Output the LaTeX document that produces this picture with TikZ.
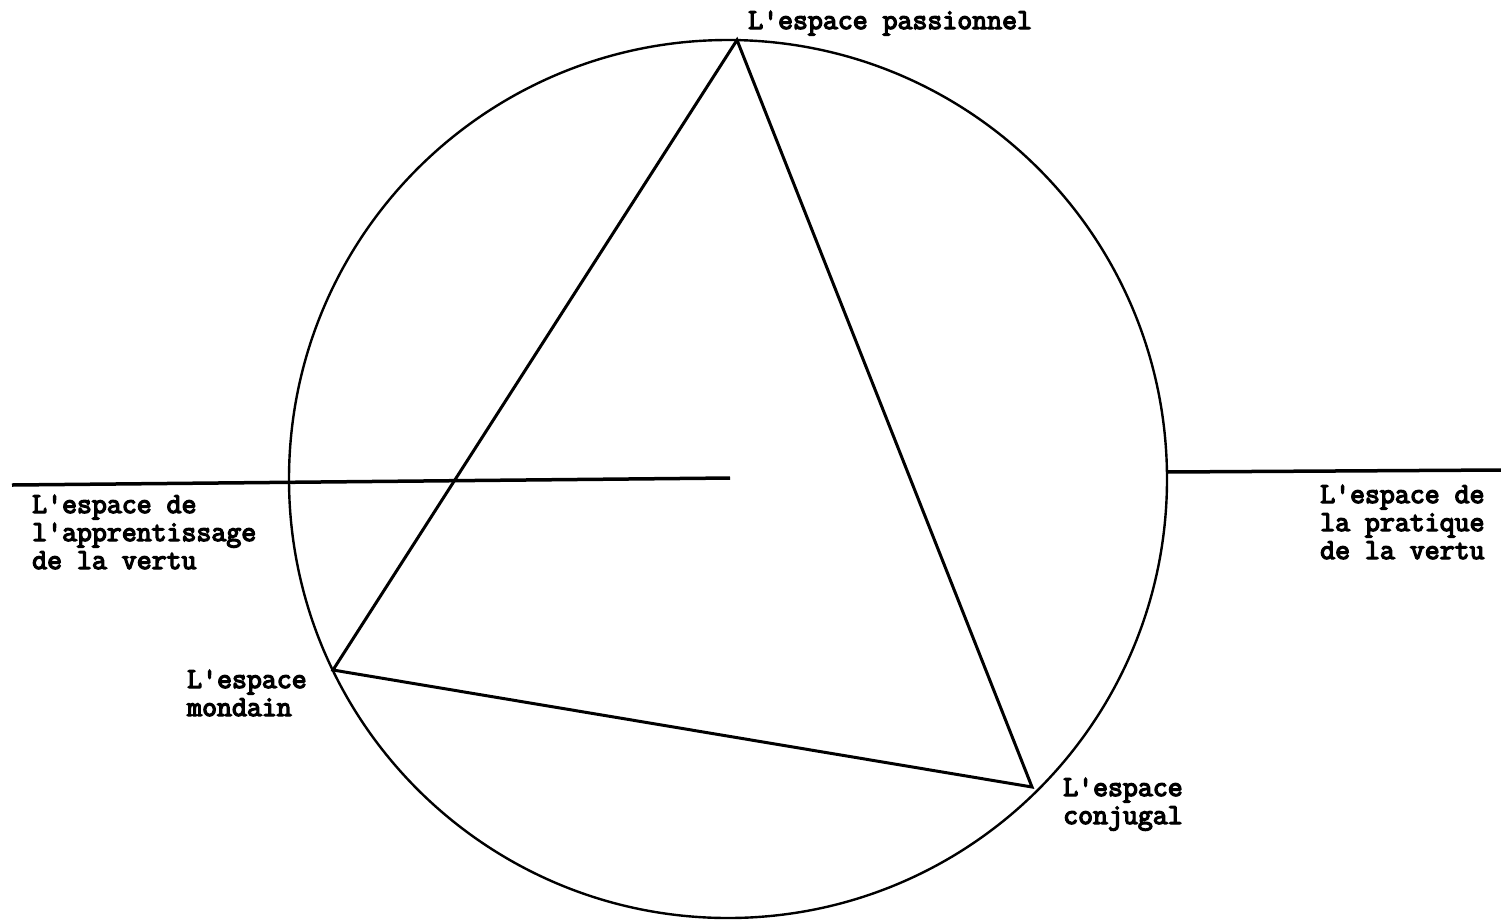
\documentclass[tikz,border=0pt]{standalone}
\usepackage{fontspec}
\newfontfamily\tw{Latin Modern Mono}[FakeBold=4.5]
\begin{document}
\begin{tikzpicture}[x=1pt,y=-1pt,
  lbl/.style={font=\tw\fontsize{29}{28}\selectfont, align=left, inner sep=0pt, anchor=base west},
  ringline/.style={line width=2.4pt},
  triline/.style={line width=3pt, line join=miter},
  hline/.style={line width=3.5pt}]
\useasboundingbox (0,0) rectangle (1501,922);
\node[ringline, draw, circle, minimum size=878pt, inner sep=0pt] (ring) at (728,479) {};
\coordinate (P) at (737,40);
\coordinate (M) at (333,670);
\coordinate (C) at (1032,787);
\draw[triline] (P) -- (M) -- (C) -- cycle;
\coordinate (la) at (12,485);
\coordinate (lb) at (730,478);
\coordinate (ra) at (1166,472);
\coordinate (rb) at (1501,470);
\draw[hline] (la) -- (lb);
\draw[hline] (ra) -- (rb);
\node[lbl] (tP) at (748,29) {L'espace passionnel};
\node[lbl] (tL) at (32,569) {L'espace de\\l'apprentissage\\de la vertu};
\node[lbl] (tR) at (1320,559) {L'espace de\\la pratique\\de la vertu};
\node[lbl] (tM) at (187,716) {L'espace\\mondain};
\node[lbl] (tC) at (1063,824) {L'espace\\conjugal};
\end{tikzpicture}
\end{document}
